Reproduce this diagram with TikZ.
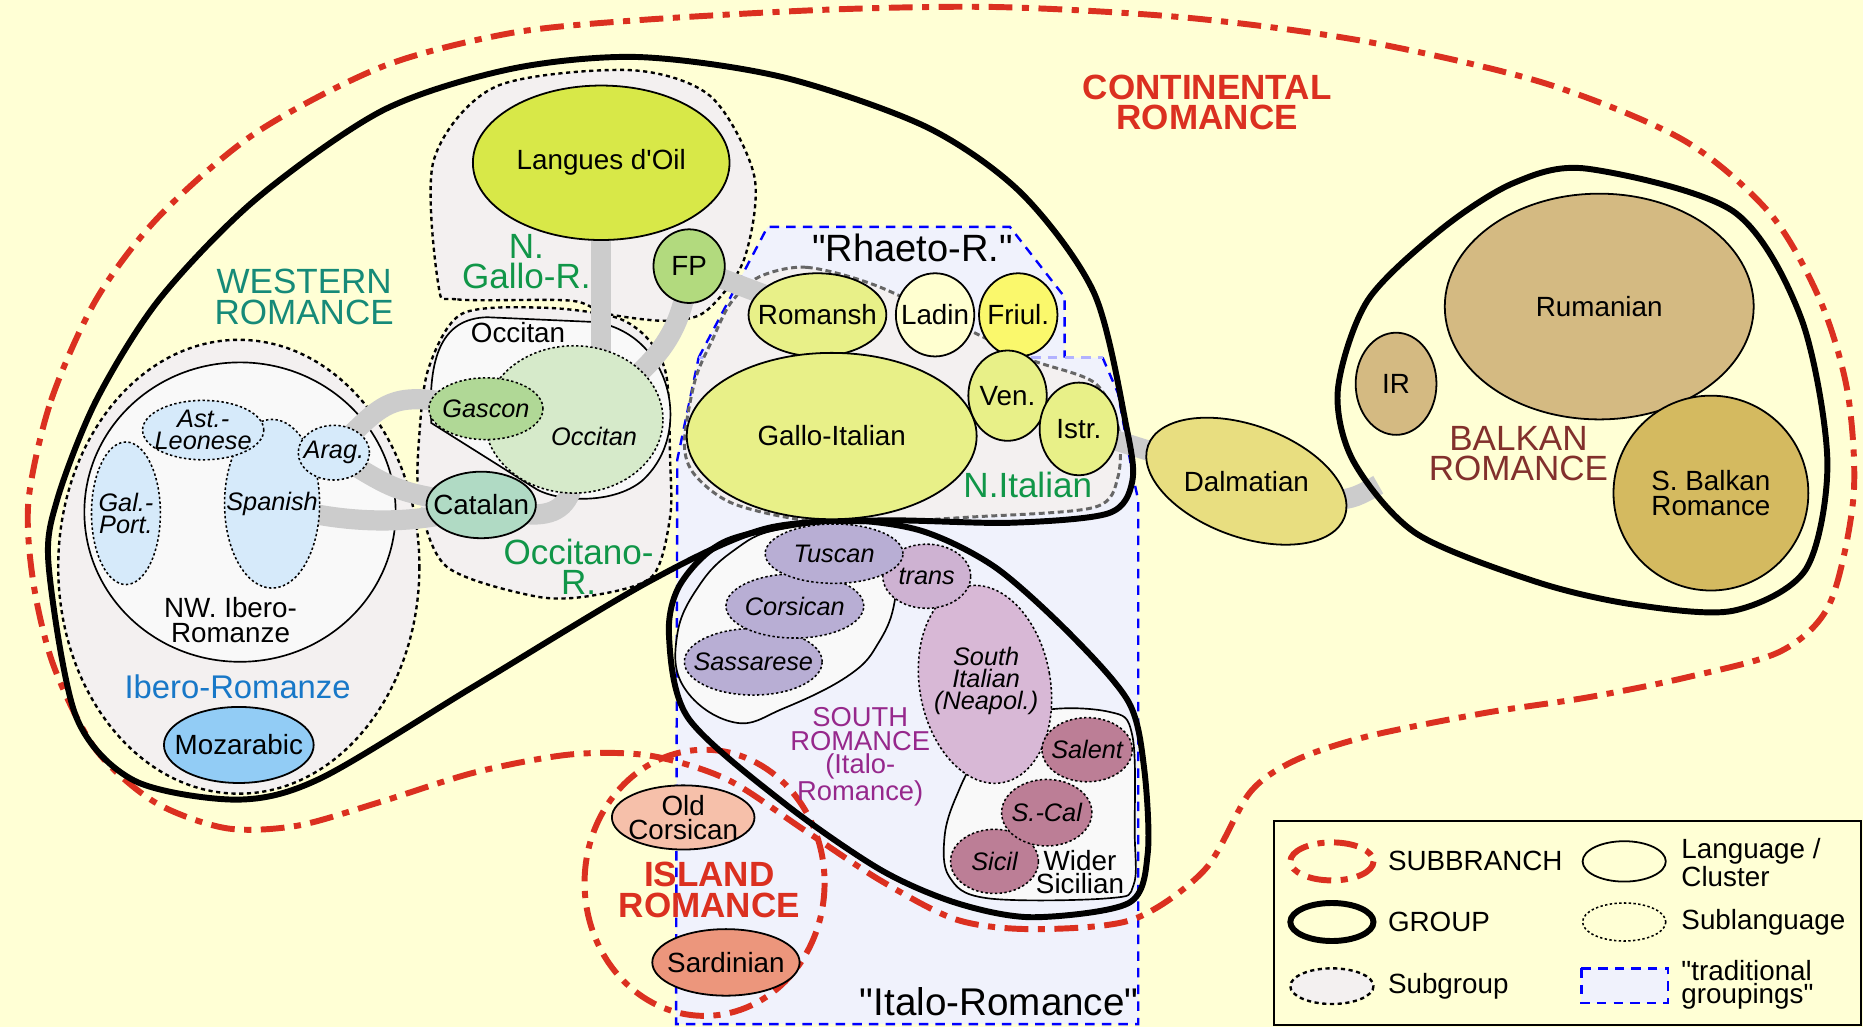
\documentclass[tikz,border=0pt]{standalone}
\usepackage{fontspec}
\setmainfont{Liberation Sans}
\usetikzlibrary{shapes.geometric}

% colours
\definecolor{bg}{RGB}{255,255,213}
\definecolor{subred}{RGB}{219,48,32}
\definecolor{subgroupfill}{RGB}{243,240,240}
\definecolor{clusterfill}{RGB}{249,249,249}
\definecolor{tradfill}{RGB}{240,242,252}
\definecolor{linkgray}{RGB}{204,204,204}
\definecolor{westteal}{RGB}{22,138,120}
\definecolor{gallogreen}{RGB}{16,150,72}
\definecolor{iberoblue}{RGB}{24,120,200}
\definecolor{southpurple}{RGB}{150,40,140}
\definecolor{balkanred}{RGB}{130,48,44}
\definecolor{oilfill}{RGB}{216,232,72}
\definecolor{fpfill}{RGB}{178,218,126}
\definecolor{nitfill}{RGB}{232,240,136}
\definecolor{ladinfill}{RGB}{255,255,208}
\definecolor{friulfill}{RGB}{250,248,108}
\definecolor{dalmfill}{RGB}{232,222,128}
\definecolor{rumfill}{RGB}{212,186,130}
\definecolor{sbalkfill}{RGB}{212,186,96}
\definecolor{catfill}{RGB}{176,218,196}
\definecolor{gascfill}{RGB}{176,216,150}
\definecolor{occfill}{RGB}{214,234,202}
\definecolor{iberofill}{RGB}{214,234,250}
\definecolor{mozfill}{RGB}{146,204,245}
\definecolor{oldcorsfill}{RGB}{246,192,170}
\definecolor{sardfill}{RGB}{236,150,124}
\definecolor{tuscfill}{RGB}{184,174,212}
\definecolor{transfill}{RGB}{206,178,210}
\definecolor{southitfill}{RGB}{216,184,214}
\definecolor{sicilfill}{RGB}{188,126,150}

\newcommand{\langfont}{\fontsize{23.4}{20.5}\selectfont}
\newcommand{\sublangfont}{\fontsize{21.3}{18.5}\selectfont\itshape}
\newcommand{\bigfont}{\fontsize{29.5}{25.5}\selectfont}

\pgfdeclarelayer{regions}
\pgfdeclarelayer{links}
\pgfsetlayers{regions,links,main}

\tikzset{
  langtext/.style={font=\langfont, align=center, inner sep=0pt},
  subtext/.style={font=\sublangfont, align=center, inner sep=0pt},
  bigtext/.style={font=\bigfont, align=center, inner sep=0pt},
  langshape/.style={draw, line width=1.5pt},
  sublangshape/.style={draw, line width=1.3pt, dash pattern=on 2pt off 2pt},
  lang/.style={langshape, ellipse, inner sep=0pt, label={[langtext]center:{#1}}},
  sublang/.style={sublangshape, ellipse, inner sep=0pt, label={[subtext]center:{#1}}},
  radii/.style 2 args={minimum width={2*#1}, minimum height={2*#2}},
  cluster/.style={draw, line width=1.4pt, fill=clusterfill},
  subgroup/.style={draw, line width=2pt, dash pattern=on 3.5pt off 3pt, fill=subgroupfill},
  group/.style={draw, line width=5pt},
  subbranch/.style={draw=subred, line width=5pt, dash pattern=on 20pt off 8pt on 6pt off 8pt},
  tradition/.style={draw=blue, line width=2pt, dash pattern=on 8pt off 6pt},
  link/.style={draw=linkgray, line width=17pt}
}

\begin{document}
\begin{tikzpicture}[x=1pt, y=-1pt]
\useasboundingbox (0,0) rectangle (1568,864);

\begin{pgfonlayer}{regions}
  \fill[bg] (0,0) rectangle (1568,864);
  % traditional groupings
  \fill[tradfill] (588,301) -- (928,301) -- (941,331) -- (953,398) -- (958,421) -- (958,862) -- (569,862) -- (570,387) -- cycle;
  \fill[tradfill] (646,191) -- (850,191) -- (896,250) -- (896,301) -- (588,301) -- cycle;
  \draw[tradition] (928,301) -- (941,331) -- (953,398) -- (958,421) -- (958,862) -- (569,862) -- (570,387) -- (588,301);
  \draw[tradition] (588,301) -- (646,191) -- (850,191) -- (896,250) -- (896,301);
  \draw[tradition, draw=blue!30] (588,301) -- (928,301);
  % subgroups
  \draw[subgroup] (201,477) ellipse [x radius=152, y radius=191];
  \draw[subgroup] plot[smooth cycle] coordinates {(369,240) (385,252) (480,253) (510,264) (560,270) (594,262) (626,219) (635,149) (598,81) (530,59) (417,73) (365,135)};
  \draw[subgroup] plot[smooth cycle] coordinates {(389,264) (458,259) (518,267) (546,286) (561,317) (564,387) (564,435) (549,485) (500,501) (451,502) (376,477) (353,421) (353,365) (361,309)};
  \draw[subgroup, draw=black!60, line width=2.5pt, dash pattern=on 5pt off 3pt] plot[smooth cycle] coordinates {(639,233) (679,225) (739,241) (820,280) (868,303) (921,322) (941,359) (941,401) (921,427) (820,435) (699,440) (620,425) (585,400) (576,373) (585,320) (600,285) (615,255)};
  % clusters
  \draw[cluster] (202,431) ellipse [x radius=131, y radius=126];
  \draw[cluster] (363,356) .. controls (360,300) and (372,268) .. (410,267) -- (500,271) .. controls (565,280) and (585,365) .. (540,405) .. controls (515,425) and (470,422) .. (452,412) -- cycle;
  \draw[cluster] plot[smooth cycle, tension=0.7] coordinates {(653,446) (710,442) (752,470) (753,506) (740,540) (715,568) (660,596) (618,608) (576,579) (570,534) (589,492) (618,463)};
  \draw[cluster] plot[smooth cycle, tension=0.6] coordinates {(870,600) (933,599) (953,619) (955,700) (954,745) (933,756) (831,756) (799,738) (795,704) (805,670) (825,635)};
\end{pgfonlayer}

% subbranches and groups
\draw[subbranch] plot[smooth cycle] coordinates {(24,421) (43,337) (81,252) (134,182) (215,112) (322,56) (429,28) (537,17) (700,8) (842,6) (1000,15) (1150,35) (1300,70) (1417,118) (1490,180) (1532,253) (1555,330) (1560,418) (1540,508) (1499,548) (1420,570) (1336,587) (1250,600) (1150,620) (1090,640) (1052,667) (1014,732) (953,774) (869,782) (805,774) (741,741) (676,698) (612,656) (547,636) (480,635) (400,650) (320,675) (250,695) (190,697) (130,675) (80,630) (45,560) (28,490)};
\draw[subbranch] (593,743) ellipse [x radius=101, y radius=112];
\draw[group] plot[smooth cycle] coordinates {(537,48) (659,65) (780,107) (860,163) (921,247) (948,359) (953,405) (933,432) (850,440) (741,438) (644,445) (547,489) (400,577) (270,655) (200,673) (113,657) (64,603) (41,477) (48,421) (81,337) (134,252) (215,168) (322,93) (430,58)};
\draw[group] plot[smooth cycle] coordinates {(699,438) (773,446) (837,477) (901,534) (950,591) (963,647) (966,718) (950,760) (869,772) (805,760) (741,732) (660,676) (579,604) (563,534) (573,491) (612,455)};
\draw[group] plot[smooth cycle] coordinates {(1336,142) (1459,178) (1516,268) (1538,388) (1520,479) (1459,514) (1376,509) (1294,490) (1192,449) (1139,388) (1126,328) (1151,253) (1213,193) (1274,154)};
\coordinate (balkanedge) at (1160,408);

% western languages
\node[lang={Langues d\textquotesingle Oil}, fill=oilfill, radii={108}{65}] (oil) at (506,137) {};
\node[lang=FP, fill=fpfill, radii={30}{31}] (fp) at (580,224) {};
\node[sublang={}, fill=occfill, radii={75}{62}] (occ) at (483,353) {};
\node[subtext] at (500,367) {Occitan};
\node[sublang=Gascon, fill=gascfill, radii={48}{26}] (gascon) at (409,344) {};
\node[lang=Catalan, fill=catfill, radii={46}{28}] (catalan) at (405,425) {};
\node[sublang={Gal.-\\Port.}, fill=iberofill, radii={29}{60}] (galport) at (106,432) {};
\node[sublang=Spanish, fill=iberofill, radii={40}{71}] (spanish) at (229,424) {};
\node[sublang={Ast.-\\Leonese}, fill=iberofill, radii={51}{25}] (ast) at (171,362) {};
\node[sublang=Arag., fill=iberofill, radii={30}{23}] (arag) at (281,381) {};
\node[lang=Mozarabic, fill=mozfill, radii={63}{32}] (mozarabic) at (201,627) {};

% northern italian languages
\node[lang=Romansh, fill=nitfill, radii={58}{35}] (romansh) at (688,265) {};
\node[lang=Ladin, fill=ladinfill, radii={33}{35}] (ladin) at (787,265) {};
\node[lang=Friul., fill=friulfill, radii={33}{35}] (friul) at (857,265) {};
\node[lang=Gallo-Italian, fill=nitfill, radii={122}{70}] (gallo) at (700,367) {};
\node[lang=Ven., fill=nitfill, radii={33}{38}] (ven) at (848,333) {};
\node[lang=Istr., fill=nitfill, radii={33}{39}] (istr) at (908,361) {};
\draw[langshape, fill=dalmfill, rotate around={-20:(1049,405)}] (1049,405) ellipse [x radius=88, y radius=47];
\node[langtext] (dalm) at (1049,405) {Dalmatian};

% balkan languages
\node[lang=Rumanian, fill=rumfill, radii={130}{95}] (rum) at (1346,258) {};
\node[lang=IR, fill=rumfill, radii={34}{43}] (ir) at (1175,323) {};
\node[lang={S. Balkan\\Romance}, fill=sbalkfill, radii={82}{82}] (sbalkan) at (1440,415) {};

% southern languages
\draw[sublangshape, fill=southitfill, rotate around={10:(829,576)}] (829,576) ellipse [x radius=55, y radius=84];
\node[subtext] (southit) at (830,573) {South\\Italian\\(Neapol.)};
\node[sublang=trans, fill=transfill, radii={37}{27}] (trans) at (780,485) {};
\node[sublang=Sassarese, fill=tuscfill, radii={58}{28}] (sassarese) at (634,557) {};
\node[sublang=Corsican, fill=tuscfill, radii={58}{27}] (corsican) at (669,510) {};
\node[sublang=Tuscan, fill=tuscfill, radii={58}{25}] (tuscan) at (702,466) {};
\node[sublang=Salent, fill=sicilfill, radii={38}{27}] (salent) at (915,631) {};
\node[sublang=Sicil, fill=sicilfill, radii={37}{27}] (sicil) at (837,725) {};
\node[sublang=S.-Cal, fill=sicilfill, radii={38}{28}] (scal) at (881,684) {};
\node[lang={Old\\Corsican}, fill=oldcorsfill, radii={60}{27}] (oldcors) at (575,688) {};
\node[lang=Sardinian, fill=sardfill, radii={62}{28}] (sard) at (611,810) {};

% group labels
\node[bigtext, text=subred, font=\bigfont\bfseries] at (1016,86) {CONTINENTAL\\ROMANCE};
\node[bigtext, text=westteal] at (256,250) {WESTERN\\ROMANCE};
\node[bigtext, text=gallogreen] at (443,220) {N.\\Gallo-R.};
\node[bigtext, text=gallogreen] at (487,477) {Occitano-\\R.};
\node[bigtext, text=gallogreen] at (865,408) {N.Italian};
\node[bigtext, text=balkanred] at (1278,382) {BALKAN\\ROMANCE};
\node[bigtext, text=subred, font=\bigfont\bfseries] at (597,749) {ISLAND\\ROMANCE};
\node[bigtext, text=iberoblue, font=\fontsize{27.6}{24}\selectfont] at (200,578) {Ibero-Romanze};
\node[langtext, text=southpurple, font=\fontsize{23}{19.7}\selectfont] at (724,637) {SOUTH\\ROMANCE\\(Italo-\\Romance)};
\node[langtext] at (194,522) {NW. Ibero-\\Romanze};
\node[langtext] at (436,280) {Occitan};
\node[langtext, font=\fontsize{23.4}{20}\selectfont] at (909,734) {Wider\\Sicilian};
\node[bigtext, font=\fontsize{32}{30}\selectfont] at (768,209) {\textquotedbl Rhaeto-R.\textquotedbl};
\node[bigtext, font=\fontsize{32.5}{30}\selectfont] at (841,843) {\textquotedbl Italo-Romance\textquotedbl};

% links
\begin{pgfonlayer}{links}
  \draw[link] (oil.center) -- (oil.center |- occ.center);
  \draw[link] (fp.center) .. controls (575,280) and (555,310) .. (occ.center);
  \draw[link] (fp.center) -- (romansh.center);
  \draw[link] (arag.center) .. controls (330,330) .. (gascon.center);
  \draw[link] (arag.center) .. controls (335,415) .. (catalan.center);
  \draw[link] (spanish.center) .. controls (300,445) and (360,440) .. (catalan.center);
  \draw[link] (catalan.center) .. controls (475,445) and (490,430) .. (occ.center);
  \draw[link] (istr.center) -- (dalm.center);
  \draw[link] (dalm.center) .. controls (1130,425) .. (balkanedge);
\end{pgfonlayer}

% legend
\draw[line width=1.5pt] (1072,691) rectangle (1566,863);
\draw[subbranch] (1121,725) ellipse [x radius=35, y radius=16];
\node[langtext, anchor=west] at (1168,725) {SUBBRANCH};
\draw[group] (1121,776) ellipse [x radius=35, y radius=16];
\node[langtext, anchor=west] at (1168,776) {GROUP};
\draw[subgroup] (1121,830) ellipse [x radius=35, y radius=15];
\node[langtext, anchor=west] at (1168,830) {Subgroup};
\draw[langshape] (1367,725) ellipse [x radius=35, y radius=17];
\node[langtext, anchor=west, align=left, font=\fontsize{23.4}{18.5}\selectfont] at (1415,726) {Language /\\Cluster};
\draw[sublangshape] (1367,776) ellipse [x radius=35, y radius=16];
\node[langtext, anchor=west] at (1415,776) {Sublanguage};
\draw[tradition, fill=tradfill] (1331,815) rectangle (1404,844);
\node[langtext, anchor=west, align=left, font=\fontsize{23.4}{19}\selectfont] at (1415,829) {\textquotedbl traditional\\groupings\textquotedbl};
\end{tikzpicture}
\end{document}
